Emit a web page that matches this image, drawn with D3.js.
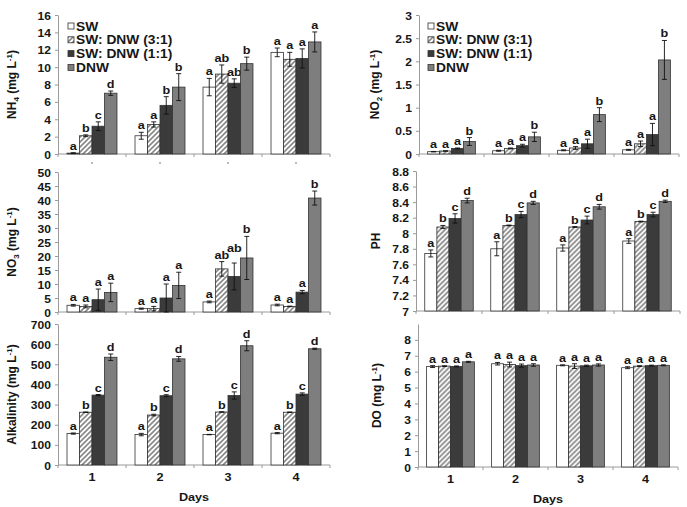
<!DOCTYPE html>
<html>
<head>
<meta charset="utf-8">
<script src="https://cdn.jsdelivr.net/npm/d3@7"></script>
<style>
  body { margin: 0; background: #fff; }
  text { font-family: "Liberation Sans", Arial, sans-serif; font-weight: bold; fill: #161616; }
</style>
</head>
<body>
<svg id="chart" width="687" height="507"></svg>
<script>

var days = ["1", "2", "3", "4"];
var treatments = ["SW", "SW: DNW (3:1)", "SW: DNW (1:1)", "DNW"];

// one row per day, one value per treatment
var nh4 = [[0.1, 2.1, 3.2, 7.0], [2.1, 3.4, 5.6, 7.7], [7.7, 9.2, 8.15, 10.4], [11.7, 10.9, 11.0, 12.9]];
var nh4Err = [[0.05, 0.1, 0.5, 0.25], [0.4, 0.3, 1.0, 1.55], [1.0, 1.05, 0.5, 0.75], [0.5, 0.8, 1.1, 1.15]];
var nh4Sig = [["a", "b", "c", "d"], ["a", "a", "b", "b"], ["a", "ab", "ab", "b"], ["a", "a", "a", "a"]];
var nh4Ticks = [0, 2, 4, 6, 8, 10, 12, 14, 16];

var no2 = [[0.05, 0.065, 0.12, 0.27], [0.07, 0.12, 0.18, 0.37], [0.08, 0.13, 0.22, 0.85], [0.09, 0.22, 0.42, 2.03]];
var no2Err = [[0.005, 0.005, 0.01, 0.085], [0.01, 0.01, 0.03, 0.1], [0.01, 0.03, 0.1, 0.15], [0.01, 0.06, 0.24, 0.42]];
var no2Sig = [["a", "a", "a", "b"], ["a", "a", "a", "b"], ["a", "a", "a", "b"], ["a", "a", "a", "b"]];
var no2Ticks = [0, 0.5, 1, 1.5, 2, 2.5, 3];

var no3 = [[2.4, 2.0, 4.4, 7.0], [1.2, 1.2, 5.0, 9.5], [3.6, 15.4, 12.7, 19.3], [2.5, 2.0, 7.1, 40.7]];
var no3Err = [[0.3, 0.5, 3.8, 3.3], [0.2, 0.8, 5.0, 4.7], [0.3, 2.6, 4.8, 7.7], [0.3, 0.1, 0.6, 2.5]];
var no3Sig = [["a", "a", "a", "a"], ["a", "a", "a", "a"], ["a", "ab", "ab", "b"], ["a", "a", "a", "b"]];
var no3Ticks = [0, 5, 10, 15, 20, 25, 30, 35, 40, 45, 50];

var ph = [[7.74, 8.08, 8.19, 8.42], [7.8, 8.1, 8.24, 8.39], [7.81, 8.08, 8.17, 8.34], [7.9, 8.15, 8.24, 8.41]];
var phErr = [[0.045, 0.02, 0.06, 0.03], [0.09, 0.005, 0.04, 0.02], [0.04, 0.005, 0.05, 0.03], [0.03, 0.005, 0.03, 0.015]];
var phSig = [["a", "b", "c", "d"], ["a", "b", "c", "d"], ["a", "b", "c", "d"], ["a", "b", "c", "d"]];
var phTicks = ["7", "7.2", "7.4", "7.6", "7.8", "8", "8.2", "8.4", "8.6", "8.8"];

var alk = [[156, 262, 347, 535], [151, 248, 344, 527], [151, 263, 345, 592], [158, 262, 352, 577]];
var alkErr = [[3, 1, 3, 16], [6, 4, 5, 12], [1, 1, 18, 25], [3, 1, 6, 3]];
var alkSig = [["a", "b", "c", "d"], ["a", "b", "c", "d"], ["a", "b", "c", "d"], ["a", "b", "c", "d"]];
var alkTicks = [0, 100, 200, 300, 400, 500, 600, 700];

var dox = [[6.32, 6.35, 6.33, 6.62], [6.5, 6.45, 6.38, 6.42], [6.4, 6.35, 6.37, 6.42], [6.25, 6.35, 6.38, 6.4]];
var doxErr = [[0.06, 0.02, 0.03, 0.03], [0.08, 0.15, 0.1, 0.08], [0.03, 0.15, 0.04, 0.07], [0.06, 0.02, 0.03, 0.03]];
var doxSig = [["a", "a", "a", "a"], ["a", "a", "a", "a"], ["a", "a", "a", "a"], ["a", "a", "a", "a"]];
var doxTicks = [0, 1, 2, 3, 4, 5, 6, 7, 8];

var SX = 1.15;   // the scanned figure is a bit wider than tall
var fills = ["#ffffff", "url(#hatch)", "#3b3b3b", "#7e7e7e"];

var svg = d3.select("#chart");

var defs = svg.append("defs");
var pat = defs.append("pattern")
  .attr("id", "hatch")
  .attr("patternUnits", "userSpaceOnUse")
  .attr("width", 5)
  .attr("height", 5);
pat.append("rect").attr("width", 5).attr("height", 5).attr("fill", "#fff");
pat.append("path")
  .attr("d", "M-1,1 l2,-2 M0,5 l5,-5 M4,6 l2,-2")
  .attr("stroke", "#8a8a8a")
  .attr("stroke-width", 1.7);

var label = function(g, x, y, s, anchor, size) {
  return g.append("text")
    .attr("transform", "translate(" + x + "," + y + ")scale(" + SX + ",1)")
    .attr("text-anchor", anchor || "start")
    .style("font-size", (size || 11) + "px")
    .text(s);
};

// rotated y title, parts = [text, "sub"|"sup"|null]
var yTitle = function(g, x, y, parts) {
  var t = g.append("text")
    .attr("transform", "translate(" + x + "," + y + ")rotate(-90)")
    .attr("text-anchor", "middle")
    .style("font-size", "12px");
  var shift = 0;
  parts.forEach(function(p) {
    var dy = 0;
    if (p[1] == "sub") dy = 3;
    if (p[1] == "sup") dy = -4;
    t.append("tspan")
      .attr("dy", dy - shift)
      .style("font-size", p[1] ? "8px" : "12px")
      .text(p[0]);
    shift = dy;
  });
};

var drawPanel = function(p) {
  var g = svg.append("g");

  var x0 = d3.scaleBand().domain(days)
    .range([p.left, p.right])
    .paddingInner(0.265)
    .paddingOuter(0.1325);
  var x1 = d3.scaleBand().domain(treatments).range([0, x0.bandwidth()]);
  var y = d3.scaleLinear().domain(p.domain).range([p.bottom, p.top]);

  // y axis
  var ax = g.append("g")
    .attr("transform", "translate(" + p.left + ",0)")
    .call(d3.axisLeft(y).tickValues(p.ticks.map(Number))
      .tickFormat(function(d, i) { return p.ticks[i]; })
      .tickSize(3).tickSizeOuter(0).tickPadding(4));
  ax.selectAll("path, line").attr("stroke", "#9a9a9a");
  ax.selectAll("text")
    .attr("x", null).attr("dy", null)
    .attr("transform", "translate(-7,4)scale(" + SX + ",1)")
    .style("font-size", "10.5px");
  ax.attr("font-family", null).attr("font-size", null);

  // x axis line and group boundary ticks
  g.append("line")
    .attr("x1", p.left).attr("x2", p.right)
    .attr("y1", p.bottom).attr("y2", p.bottom)
    .attr("stroke", "#9a9a9a");
  g.selectAll(".bt").data(d3.range(days.length + 1)).enter()
    .append("line")
    .attr("x1", function(i) { return p.left + i * x0.step(); })
    .attr("x2", function(i) { return p.left + i * x0.step(); })
    .attr("y1", p.bottom).attr("y2", p.bottom + 3)
    .attr("stroke", "#9a9a9a");

  var groups = g.selectAll(".day").data(days).enter()
    .append("g")
    .attr("transform", function(d) { return "translate(" + x0(d) + ",0)"; });

  var cells = function(d, i) {
    return treatments.map(function(t, j) {
      return { t: t, i: i, j: j, v: p.vals[i][j], e: p.errs[i][j], s: p.sig[i][j] };
    });
  };

  var bar = groups.selectAll(".b").data(cells).enter().append("g");

  bar.append("rect")
    .attr("x", function(c) { return x1(c.t); })
    .attr("width", x1.bandwidth())
    .attr("y", function(c) { return y(c.v); })
    .attr("height", function(c) { return y(p.domain[0]) - y(c.v); })
    .attr("fill", function(c) { return fills[c.j]; })
    .attr("stroke", "#333")
    .attr("stroke-width", 0.8);

  var cx = function(c) { return x1(c.t) + x1.bandwidth() / 2; };

  bar.append("path")
    .attr("d", function(c) {
      var a = y(c.v + c.e), b = y(c.v - c.e), m = cx(c);
      return "M" + m + "," + a + "V" + b +
        "M" + (m - 2.5) + "," + a + "h5" +
        "M" + (m - 2.5) + "," + b + "h5";
    })
    .attr("stroke", "#111")
    .attr("stroke-width", 0.9)
    .attr("fill", "none");

  bar.each(function(c) {
    // letters that would collide get lifted, as in the original
    var lift = (p.lift && p.lift[c.i + "-" + c.j]) || 0;
    label(d3.select(this), cx(c), y(c.v + c.e) - 3 - lift, c.s, "middle", 11);
  });

  if (p.dayLabels) {
    days.forEach(function(d) {
      label(g, x0(d) + x0.bandwidth() / 2, p.bottom + 16, d, "middle", 11);
    });
    label(g, (p.left + p.right) / 2, p.bottom + 36, "Days", "middle", 11);
  }

  if (p.stubs) {
    // cut-off remains of the day labels under the top-left panel
    days.forEach(function(d) {
      g.append("line")
        .attr("x1", x0(d) + x0.bandwidth() / 2 - 1)
        .attr("x2", x0(d) + x0.bandwidth() / 2 + 1)
        .attr("y1", p.bottom + 9).attr("y2", p.bottom + 9)
        .attr("stroke", "#777");
    });
  }

  if (p.legend) {
    var lg = g.append("g");
    treatments.forEach(function(t, j) {
      var ly = p.legend[1] + j * 13.8;
      lg.append("rect")
        .attr("x", p.legend[0]).attr("y", ly - 3)
        .attr("width", 6).attr("height", 6)
        .attr("fill", fills[j])
        .attr("stroke", "#333")
        .attr("stroke-width", 0.8);
      label(lg, p.legend[0] + 8, ly + 4.5, t, "start", 12);
    });
  }

  yTitle(g, p.titleX, (p.top + p.bottom) / 2, p.title);
};

var panels = [
  { vals: nh4, errs: nh4Err, sig: nh4Sig, ticks: nh4Ticks, domain: [0, 16],
    left: 58, right: 330, top: 15, bottom: 154, titleX: 16, stubs: true,
    legend: [68, 26],
    title: [["NH", null], ["4", "sub"], [" (mg L", null], ["-1", "sup"], [")", null]] },
  { vals: no2, errs: no2Err, sig: no2Sig, ticks: no2Ticks, domain: [0, 3],
    left: 419, right: 679, top: 15, bottom: 154, titleX: 379,
    legend: [428, 26],
    title: [["NO", null], ["2", "sub"], [" (mg L", null], ["-1", "sup"], [")", null]] },
  { vals: no3, errs: no3Err, sig: no3Sig, ticks: no3Ticks, domain: [0, 50],
    left: 58, right: 330, top: 172, bottom: 312, titleX: 16, lift: { "2-2": 8 },
    title: [["NO", null], ["3", "sub"], [" (mg L", null], ["-1", "sup"], [")", null]] },
  { vals: ph, errs: phErr, sig: phSig, ticks: phTicks, domain: [7, 8.8],
    left: 416, right: 680, top: 171, bottom: 311, titleX: 380,
    title: [["PH", null]] },
  { vals: alk, errs: alkErr, sig: alkSig, ticks: alkTicks, domain: [0, 700],
    left: 58, right: 330, top: 324, bottom: 465, titleX: 16, dayLabels: true,
    title: [["Alkalinity (mg L", null], ["-1", "sup"], [")", null]] },
  { vals: dox, errs: doxErr, sig: doxSig, ticks: doxTicks, domain: [0, 9],
    left: 418, right: 678, top: 324, bottom: 467, titleX: 381, dayLabels: true,
    title: [["DO (mg L", null], ["-1", "sup"], [")", null]] }
];

panels.forEach(drawPanel);

</script>
</body>
</html>
